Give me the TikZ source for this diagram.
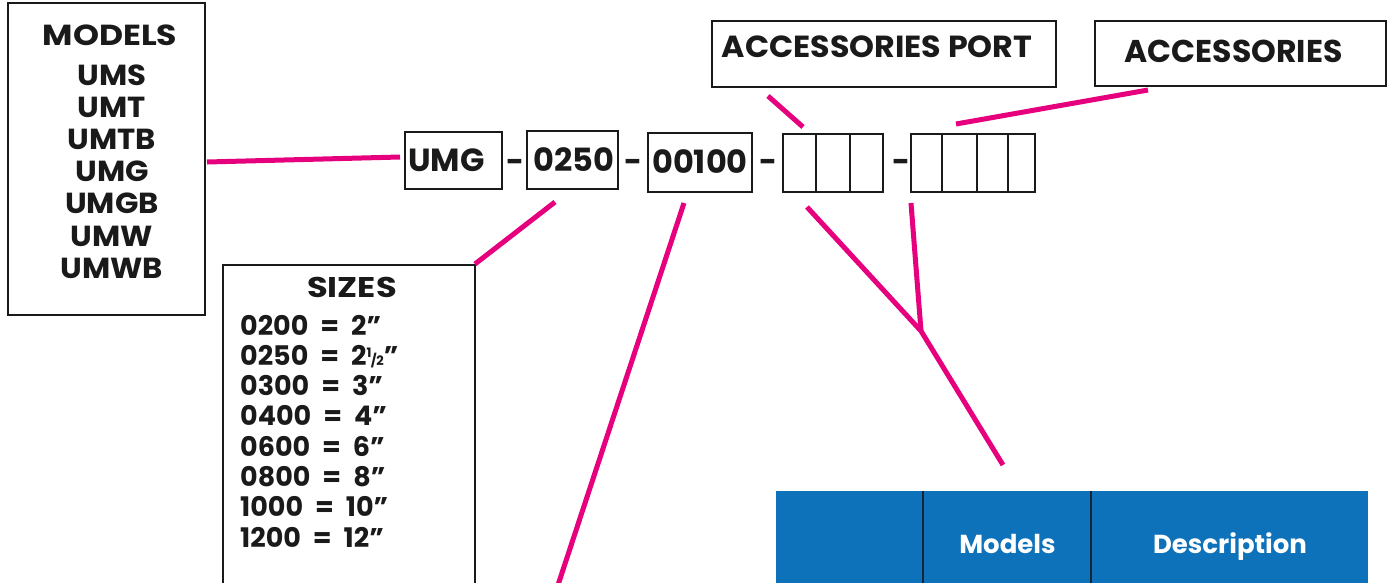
\documentclass[tikz,border=0pt]{standalone}
\usepackage{fontspec}
\setmainfont{Poppins}
\definecolor{mag}{HTML}{E6007E}
\definecolor{tblue}{HTML}{0D72BA}
\definecolor{tline}{HTML}{1A2533}
\definecolor{ink}{HTML}{1A1A1A}
\newcommand\eqsp{\hspace{12pt}=\hspace{12pt}}
\tikzset{
  frame/.style={draw=ink, line width=2.6pt, inner sep=0pt, rectangle},
  pinkline/.style={draw=mag, line width=5pt},
  lbl/.style={inner sep=0pt, text=ink, font=\fontsize{#1}{#1}\selectfont\bfseries},
  lbl/.default=31,
}
\begin{document}
\begin{tikzpicture}[x=1pt,y=-1pt]
\useasboundingbox (0,0) rectangle (1390,582);
\fill[white] (0,0) rectangle (1390,582);

% MODELS box
\node[frame, minimum width=197pt, minimum height=312pt] (models) at (106.5,159) {};
\node[lbl=29, anchor=base] (mt) at (110,45) {\scalebox{1.14}[1]{MODELS}};
\foreach \t [count=\i from 0] in {UMS,UMT,UMTB,UMG,UMGB,UMW,UMWB}{
  \node[lbl=29, anchor=base] (m\i) at (112,85+32.2*\i) {\scalebox{1.06}[1]{\t}};
}

% code boxes
\node[frame, minimum width=97pt, minimum height=57pt] (umg) at (453.5,160.5) {};
\node[lbl=32, anchor=base west] (umgt) at (408,171) {UMG};
\node[lbl=31, anchor=base] (d1) at (515,172) {-};
\node[frame, minimum width=91pt, minimum height=58pt] (size) at (572.5,160) {};
\node[lbl=32, anchor=base] (sizet) at (574,171) {0250};
\node[lbl=31, anchor=base] (d2) at (633,172) {-};
\node[frame, minimum width=104pt, minimum height=59pt] (len) at (700,162.5) {};
\node[lbl=32, anchor=base] (lent) at (700,173) {00100};
\node[lbl=31, anchor=base] (d3) at (768,172) {-};
\node[frame, minimum width=33pt, minimum height=58pt] (p1) at (799.5,163) {};
\node[frame, minimum width=34pt, minimum height=58pt] (p2) at (833,163) {};
\node[frame, minimum width=33pt, minimum height=58pt] (p3) at (866.5,163) {};
\node[lbl=31, anchor=base] (d4) at (901,172) {-};
\node[frame, minimum width=31pt, minimum height=58pt] (a1) at (926.5,163) {};
\node[frame, minimum width=35pt, minimum height=58pt] (a2) at (959.5,163) {};
\node[frame, minimum width=31pt, minimum height=58pt] (a3) at (992.5,163) {};
\node[frame, minimum width=27pt, minimum height=58pt] (a4) at (1021.5,163) {};

% top labels
\node[frame, minimum width=344pt, minimum height=66pt] (accport) at (884,54) {};
\node[lbl=30.5, anchor=base] (accportt) at (877,57.5) {\scalebox{1.04}[1]{ACCESSORIES PORT}};
\node[frame, minimum width=291pt, minimum height=65pt] (acc) at (1240.5,53.5) {};
\node[lbl=31.5, anchor=base] (acct) at (1233.5,62) {ACCESSORIES};

% SIZES box
\node[frame, minimum width=252pt, minimum height=355pt] (sizes) at (349,442.5) {};
\node[lbl=28.5, anchor=base] (st) at (352,297) {\scalebox{1.18}[1]{SIZES}};
\foreach \t [count=\i from 0] in {0200\eqsp 2”,
  0250\eqsp 2{\fontsize{13}{13}\selectfont\raisebox{8pt}{1}\kern-0.5pt/\kern-0.5pt2}”,
  0300\eqsp 3”,0400\eqsp 4”,0600\eqsp 6”,0800\eqsp 8”,1000\eqsp 10”,1200\eqsp 12”}{
  \node[lbl=27, anchor=base west] (s\i) at (240,335+30.3*\i) {\t};
}

% table header
\fill[tblue] (776,491) rectangle (1368,600);
\coordinate (tl1t) at (923,491); \coordinate (tl1b) at (923,600);
\coordinate (tl2t) at (1091,491); \coordinate (tl2b) at (1091,600);
\draw[tline, line width=2.5pt] (tl1t) -- (tl1b);
\draw[tline, line width=2.5pt] (tl2t) -- (tl2b);
\node[inner sep=0pt, text=white, font=\fontsize{26}{26}\selectfont\bfseries, anchor=base] (hm) at (1007.5,553) {Models};
\node[inner sep=0pt, text=white, font=\fontsize{26}{26}\selectfont\bfseries, anchor=base] (hd) at (1230,553) {Description};

% connectors
\coordinate (c1a) at (207,162); \coordinate (c1b) at (400,157);
\draw[pinkline] (c1a) -- (c1b);
\coordinate (c2a) at (555,202); \coordinate (c2b) at (475,264);
\draw[pinkline] (c2a) -- (c2b);
\coordinate (c3a) at (684,203); \coordinate (c3b) at (558,585);
\draw[pinkline] (c3a) -- (c3b);
\coordinate (c4a) at (807,207); \coordinate (junc) at (921,331); \coordinate (c4b) at (1003,465);
\coordinate (c5a) at (911,203);
\draw[pinkline] (c4a) -- (junc) -- (c4b);
\draw[pinkline] (c5a) -- (junc);
\coordinate (c6a) at (768,96); \coordinate (c6b) at (803,127);
\draw[pinkline] (c6a) -- (c6b);
\coordinate (c7a) at (1148,90); \coordinate (c7b) at (956,124);
\draw[pinkline] (c7a) -- (c7b);
\end{tikzpicture}
\end{document}
